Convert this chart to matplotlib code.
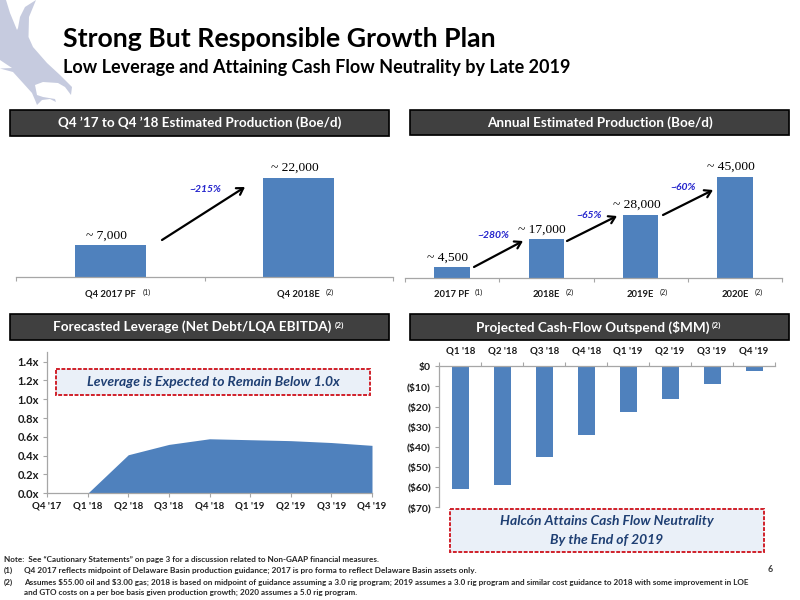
"""
Growth plan slide: two production bar charts, leverage area chart, cash flow bar chart.
"""

import matplotlib
matplotlib.use('Agg')
import matplotlib.pyplot as plt
from matplotlib.patches import Polygon, Rectangle

plt.rcParams['font.family'] = ['Lato', 'DejaVu Sans']

W, H = 800, 600
BLUE = '#4f81bd'
AXIS = '#a6a6a6'
NUM_FONT = 'Liberation Serif'

q4_labels = ['Q4 2017 PF', 'Q4 2018E']
q4_notes = ['(1)', '(2)']
q4_values = [7000, 22000]
q4_text = ['~ 7,000', '~ 22,000']

annual_labels = ['2017 PF', '2018E', '2019E', '2020E']
annual_notes = ['(1)', '(2)', '(2)', '(2)']
annual_values = [4500, 17000, 28000, 45000]
annual_text = ['~ 4,500', '~ 17,000', '~ 28,000', '~ 45,000']

lev_labels = ["Q4 '17", "Q1 '18", "Q2 '18", "Q3 '18", "Q4 '18", "Q1 '19", "Q2 '19", "Q3 '19", "Q4 '19"]
lev_values = [0.0, 0.0, 0.41, 0.52, 0.58, 0.57, 0.56, 0.54, 0.51]
lev_ticks = [0.0, 0.2, 0.4, 0.6, 0.8, 1.0, 1.2, 1.4]

cash_labels = ["Q1 '18", "Q2 '18", "Q3 '18", "Q4 '18", "Q1 '19", "Q2 '19", "Q3 '19", "Q4 '19"]
cash_values = [-61, -58.7, -44.8, -34.3, -22.6, -16.3, -9, -2.5]
cash_ticks = [0, -10, -20, -30, -40, -50, -60, -70]
cash_tick_labels = ['$0', '($10)', '($20)', '($30)', '($40)', '($50)', '($60)', '($70)']


# Make an axes from a box given in image pixels (y going down)
def pixel_axes(left, top, right, bottom):
    return fig.add_axes([left / W, 1 - bottom / H, (right - left) / W, (bottom - top) / H],
                        facecolor='none')


def style_spines(ax, visible):
    for side in ['top', 'right', 'bottom', 'left']:
        ax.spines[side].set_visible(side in visible)
        ax.spines[side].set_color(AXIS)
        ax.spines[side].set_linewidth(0.9)


# Bars along a baseline with label and footnote mark under each
def production_chart(box, labels, notes, values, texts, bar_width, ymax, note_base, note_step):
    ax = pixel_axes(*box)
    x = list(range(len(values)))
    ax.bar(x, values, width=bar_width, color=BLUE)
    ax.set_xlim(-0.5, len(values) - 0.5)
    ax.set_ylim(0, ymax)
    style_spines(ax, ['bottom'])
    ax.set_yticks([])
    ax.set_xticks([i - 0.5 for i in range(len(values) + 1)])
    ax.set_xticklabels([])
    ax.tick_params(axis='x', direction='out', length=3, color=AXIS, width=0.8)
    for i, val in enumerate(values):
        ax.annotate(texts[i], (i, val), xytext=(-3, 3), textcoords='offset points',
                    ha='center', va='bottom', fontsize=9.7, family=NUM_FONT, color='black')
        ax.annotate(labels[i], (i, 0), xytext=(0, -9), textcoords='offset points',
                    ha='center', va='top', fontsize=6.8, fontweight='bold', color='#1a1a1a',
                    annotation_clip=False)
        ax.annotate(notes[i], (i, 0), xytext=(note_base + note_step * len(labels[i]), -8.5),
                    textcoords='offset points', ha='center', va='top', fontsize=5.2,
                    color='#1a1a1a', annotation_clip=False)
    return ax


def header(left, top, right, bottom, text, note=None):
    over.add_patch(Rectangle((left + 1, top + 1), right - left, bottom - top, fc='#c8c8c8', ec='none'))
    over.add_patch(Rectangle((left, top), right - left, bottom - top, fc='#404040', ec='black', lw=1.2))
    shift = 7 if note else 0
    label = over.text((left + right) / 2 - shift, (top + bottom) / 2, text, color='white', ha='center',
                      va='center', fontsize=9.7, fontweight='bold')
    if note:
        over.annotate(note, xy=(1, 1), xycoords=label, xytext=(2, -1), textcoords='offset points',
                      color='white', ha='left', va='top', fontsize=6, fontweight='bold')


def callout(left, top, right, bottom, lines):
    over.add_patch(Rectangle((left, top), right - left, bottom - top, fc='#eaf0f8', ec='#d0202a',
                             lw=1.4, ls=(0, (2, 0.8))))
    step = (bottom - top) / (len(lines) + 0.35)
    for i, line in enumerate(lines):
        over.text((left + right) / 2, top + step * (i + 0.67), line, color='#1f3f73', ha='center',
                  va='center', fontsize=10, fontweight='bold', style='italic')


def arrow(x0, y0, x1, y1):
    over.annotate('', xy=(x1, y1), xytext=(x0, y0),
                  arrowprops=dict(arrowstyle='->,head_width=0.28,head_length=0.45', color='black', lw=1.6,
                                  shrinkA=0, shrinkB=0))


def growth(x, y, text):
    over.text(x, y, text, color='#2222cc', ha='center', va='center', fontsize=7.5,
              fontweight='bold', style='italic')


fig = plt.figure(figsize=(8, 6), dpi=100, facecolor='white')

# Pixel overlay for slide furniture, drawn above the charts
over = fig.add_axes([0, 0, 1, 1], facecolor='none', zorder=5)
over.set_xlim(0, W)
over.set_ylim(H, 0)
over.axis('off')

# Eagle logo, rough outline
logo = [(0, 0), (6, 0), (10, 13), (17, 30), (18, 28), (20, 17), (25, 7), (36, 0), (29, 17), (28.5, 37),
        (33, 47), (47, 63), (60, 75), (72, 87), (71, 95), (65, 87), (58, 83), (43, 82), (35, 85), (37, 95),
        (43, 97), (55, 99), (56, 102), (50, 99), (42, 100), (37, 105), (35, 100), (32, 93), (23, 83),
        (13, 72), (0, 68.5), (12, 68), (0, 60)]
over.add_patch(Polygon(logo, closed=True, fc='#c6cbdf', ec='none'))

over.text(63, 39, 'Strong But Responsible Growth Plan', fontsize=19.2, fontweight='bold',
          color='black', va='center', ha='left')
over.text(63, 67, 'Low Leverage and Attaining Cash Flow Neutrality by Late 2019', fontsize=13,
          fontweight='bold', color='black', va='center', ha='left')

header(10, 110, 389, 136, 'Q4 \u201917 to Q4 \u201918 Estimated Production (Boe/d)')
header(410, 110, 789, 135, 'Annual Estimated Production (Boe/d)')
header(10, 314, 389, 340, 'Forecasted Leverage (Net Debt/LQA EBITDA)', '(2)')
header(410, 314, 789, 340, 'Projected Cash-Flow Outspend (\\$MM)', '(2)')

# Top charts, both with the same pixels per boe/d within each
production_chart((16, 150, 393, 277), q4_labels, q4_notes, q4_values, q4_text, 0.375, 28200, 6, 2)
production_chart((405, 150, 782, 277.5), annual_labels, annual_notes, annual_values, annual_text, 0.375, 57000,
                 10.75, 1.25)

arrow(162, 240, 245, 187)
growth(205, 190, '~215%')
arrow(474, 267, 523, 241)
arrow(567, 241, 617, 216)
arrow(663, 215, 713, 190)
growth(493, 236, '~280%')
growth(589, 216, '~65%')
growth(683, 188, '~60%')

# Leverage area chart
ax3 = pixel_axes(47, 352, 372, 493.3)
xs = list(range(len(lev_values)))
ax3.fill_between(xs, lev_values, 0, color=BLUE, lw=0)
ax3.set_xlim(0, len(lev_values) - 1)
ax3.set_ylim(0, 1.503)
ax3.set_xticks(xs)
ax3.set_xticklabels(lev_labels, fontsize=7, fontweight='bold', color='#1a1a1a')
ax3.set_yticks(lev_ticks)
ax3.set_yticklabels(['{:.1f}x'.format(v) for v in lev_ticks], fontsize=8, fontweight='bold', color='#1a1a1a')
style_spines(ax3, ['bottom', 'left'])
ax3.tick_params(axis='both', direction='out', length=3, color=AXIS, width=0.8, pad=3)
callout(56, 369, 370, 395, ['Leverage is Expected to Remain Below 1.0x'])

# Cash flow bars hanging from zero, labels on top
ax4 = pixel_axes(439.3, 366.3, 775, 507.3)
cx = list(range(len(cash_values)))
ax4.bar(cx, cash_values, width=0.405, color=BLUE)
ax4.set_xlim(-0.5, len(cash_values) - 0.5)
ax4.set_ylim(-70, 0)
style_spines(ax4, ['top', 'left'])
ax4.xaxis.tick_top()
ax4.set_xticks([i - 0.5 for i in range(len(cash_values) + 1)])
ax4.set_xticklabels([])
ax4.set_yticks(cash_ticks)
ax4.set_yticklabels([t.replace('$', '\\$') for t in cash_tick_labels], fontsize=7.5,
                    fontweight='bold', color='#1a1a1a')
ax4.tick_params(axis='both', direction='out', length=3, color=AXIS, width=0.8, pad=3)
for i, name in enumerate(cash_labels):
    ax4.annotate(name, (i, 0), xytext=(0, 7.5), textcoords='offset points', ha='center', va='bottom',
                 fontsize=7, fontweight='bold', color='#1a1a1a', annotation_clip=False)
callout(450, 509, 764, 552, ['Halcón Attains Cash Flow Neutrality', 'By the End of 2019'])

# Footnotes
notes = [
    (4, 559.5, 'Note:  See \u201cCautionary Statements\u201d on page 3 for a discussion related to Non-GAAP financial measures.', 5.85),
    (4, 570.5, '(1)', 5.85),
    (24, 570.5, 'Q4 2017 reflects midpoint of Delaware Basin production guidance; 2017 is pro forma to reflect Delaware Basin assets only.', 5.95),
    (4, 582, '(2)', 5.85),
    (24, 582, 'Assumes \\$55.00 oil and \\$3.00 gas; 2018 is based on midpoint of guidance assuming a 3.0 rig program; 2019 assumes a 3.0 rig program and similar cost guidance to 2018 with some improvement in LOE', 5.85),
    (24, 592.5, 'and GTO costs on a per boe basis given production growth; 2020 assumes a 5.0 rig program.', 5.85),
]
for x, y, text, size in notes:
    over.text(x, y, text, fontsize=size, fontweight='bold', color='#262626', va='center', ha='left')
over.text(770, 570, '6', fontsize=6.5, fontweight='bold', color='#404040', ha='center', va='center')

fig.savefig('out.png', dpi=100)
